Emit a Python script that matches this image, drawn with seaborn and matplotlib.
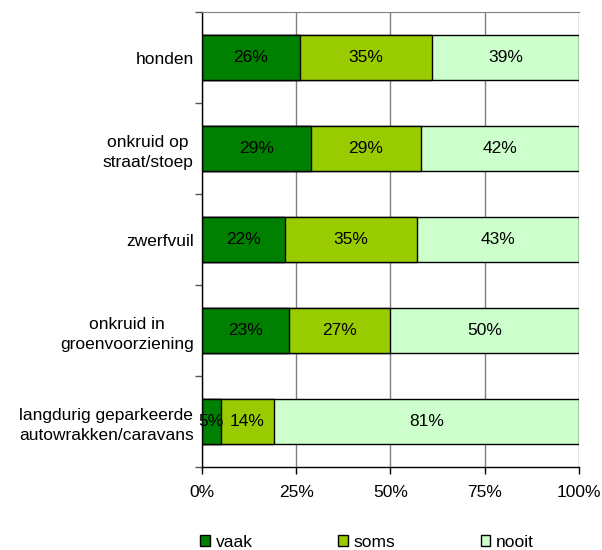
import numpy as np
import pandas as pd
import matplotlib.pyplot as plt
from matplotlib.patches import Patch
from matplotlib.ticker import FixedLocator, PercentFormatter
import seaborn as sns

categories = ["honden", "onkruid op\nstraat/stoep", "zwerfvuil",
              "onkruid in\ngroenvoorziening",
              "langdurig geparkeerde\nautowrakken/caravans"]
vaak = [26, 29, 22, 23, 5]
soms = [35, 29, 35, 27, 14]
nooit = [39, 42, 43, 50, 81]
series_names = ["vaak", "soms", "nooit"]
colors = ["#008000", "#99CC00", "#CCFFCC"]

sns.set_style("white")
plt.rcParams['font.family'] = ['Liberation Sans', 'DejaVu Sans']
plt.rcParams['font.size'] = 12.5
plt.rcParams['text.color'] = 'black'
plt.rcParams['xtick.color'] = 'black'
plt.rcParams['ytick.color'] = 'black'

df = pd.DataFrame({"cat": categories, "vaak": vaak, "soms": soms, "nooit": nooit})
df["cum_soms"] = df["vaak"] + df["soms"]
df["cum_nooit"] = df["cum_soms"] + df["nooit"]

fig = plt.figure(figsize=(6.02, 5.5), dpi=100)
ax = fig.add_axes([0.3355, 0.151, 0.6263, 0.827])

# stacked bars: draw the cumulative totals, largest first
for col, c in zip(["cum_nooit", "cum_soms", "vaak"], colors[::-1]):
    sns.barplot(data=df, x=col, y="cat", color=c, width=0.5, orient="h",
                edgecolor="black", linewidth=1, saturation=1, ax=ax)

# value labels in the middle of every segment
for i in range(len(categories)):
    starts = [0, df["vaak"][i], df["cum_soms"][i]]
    vals = [df["vaak"][i], df["soms"][i], df["nooit"][i]]
    for s, v in zip(starts, vals):
        ax.text(s + v / 2, i, f"{v}%", ha="center", va="center", fontsize=12.5)

ax.set_xlim(0, 100)
ax.set_ylim(len(categories) - 0.5, -0.5)
ax.set_xticks([0, 25, 50, 75, 100])
ax.xaxis.set_major_formatter(PercentFormatter(decimals=0))
ax.set_xlabel("")
ax.set_ylabel("")

# ticks at band boundaries, labels at centers
ax.yaxis.set_major_locator(FixedLocator(np.arange(-0.5, len(categories), 1)))
ax.yaxis.set_minor_locator(FixedLocator(np.arange(len(categories))))
ax.set_yticklabels([""] * (len(categories) + 1))
ax.set_yticklabels(categories, minor=True, ha="right", multialignment="center",
                   linespacing=1.45)
ax.tick_params(axis="y", which="major", length=5, width=1, color="#555555", left=True)
ax.tick_params(axis="y", which="minor", length=0, pad=6)
ax.tick_params(axis="x", length=5, width=1, color="black", bottom=True, pad=8)

ax.xaxis.grid(True, color="#808080", linewidth=1)
ax.set_axisbelow(True)
for side in ["left", "bottom"]:
    ax.spines[side].set_color("black")
    ax.spines[side].set_linewidth(1)
ax.spines["top"].set_color("#808080")
ax.spines["right"].set_visible(False)

handles = [Patch(facecolor=c, edgecolor="black", label=n) for n, c in zip(series_names, colors)]
fig.legend(handles=handles, loc="lower left", bbox_to_anchor=(0.307, -0.028), ncol=3,
           frameon=False, handlelength=0.55, handleheight=0.55, handletextpad=0.35,
           columnspacing=4.9, fontsize=12.5)

fig.savefig("out.png", dpi=100)
